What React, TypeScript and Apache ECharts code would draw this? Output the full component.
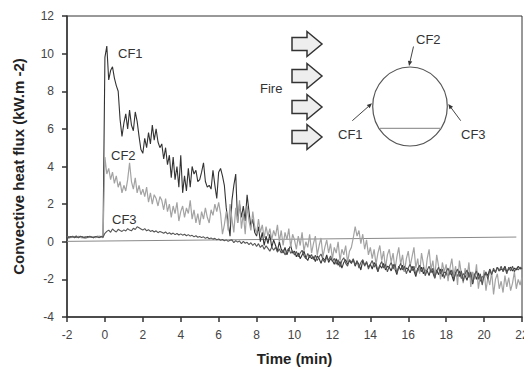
import React, { useEffect, useRef } from "react";
import * as echarts from "echarts";

// Sampling grid of the recorded data (minutes)
const timeStart = -2;
const timeStep = 0.1;

// Convective heat flux (kW.m-2), one value per sample, from t = -2.0 to 22.0 min
const cf1Flux = [
  0.25, 0.2, 0.28, 0.22, 0.26, 0.3, 0.21, 0.24, 0.27, 0.23,
  0.2, 0.28, 0.24, 0.26, 0.22, 0.25, 0.29, 0.23, 0.26, 0.25,
  9.8, 10.4, 8.6, 9.1, 9.3, 8.7, 8.3, 8.0, 6.5, 5.6,
  6.3, 6.8, 6.0, 7.0, 6.2, 5.9, 6.9, 6.4, 5.6, 4.9,
  4.7, 5.5, 5.0, 5.8, 5.2, 6.2, 5.4, 6.0, 5.3, 5.0,
  5.2, 4.4, 5.0, 4.1, 4.6, 3.4, 4.5, 3.3, 4.0, 2.9,
  4.6, 2.6, 3.5, 2.7, 3.9, 2.9, 4.0, 3.6, 3.8, 3.2,
  3.3, 3.7, 4.2, 3.2, 2.9, 3.0, 2.8, 3.8, 3.0, 2.3,
  3.7, 3.9, 3.5, 3.0, 1.8, 1.0, 0.3, 2.2, 3.0, 3.6,
  1.0, 2.0, 1.3, 1.9, 1.1, 2.5, 1.6, 0.8, 1.2, 0.5,
  0.3, 0.8, 0.0, 0.5, -0.2, 0.3, -0.1, 0.4, -0.3, 0.1,
  -0.2, -0.5, 0.0, -0.4, -0.6, -0.3, -0.7, -0.4, -0.2, -0.6,
  -0.5, -0.8, -0.6, -0.9, -0.7, -0.5, -0.85, -1.0, -0.7, -0.9,
  -0.8, -1.05, -0.75, -0.9, -1.15, -0.85, -1.0, -0.7, -1.1, -0.9,
  -1.0, -1.2, -0.9, -1.25, -1.05, -1.4, -1.1, -0.95, -1.2, -1.0,
  -1.15, -0.95, -1.3, -1.05, -1.2, -1.5, -1.0, -1.25, -1.1, -1.35,
  -1.2, -1.45, -1.1, -1.3, -1.6, -1.25, -1.4, -1.15, -1.5, -1.3,
  -1.35, -1.55, -1.2, -1.45, -1.75, -1.3, -1.5, -1.25, -1.6, -1.4,
  -1.45, -1.65, -1.3, -1.55, -1.85, -1.4, -1.6, -1.35, -1.7, -1.5,
  -1.55, -1.8, -1.4, -1.65, -1.95, -1.5, -1.75, -1.45, -1.85, -1.6,
  -1.65, -1.9, -1.5, -1.8, -2.1, -1.6, -1.85, -1.55, -1.95, -1.7,
  -1.8, -2.05, -1.6, -1.9, -2.25, -1.7, -2.0, -1.65, -2.1, -1.85,
  -1.9, -1.65, -1.8, -1.45, -1.7, -1.5, -1.6, -1.35, -1.55, -1.45,
  -1.5, -1.3, -1.6, -1.45, -1.35, -1.55, -1.4, -1.5, -1.3, -1.45,
  -1.4,
];

const cf2Flux = [
  0.24, 0.28, 0.21, 0.26, 0.25, 0.22, 0.29, 0.23, 0.2, 0.27,
  0.25, 0.21, 0.27, 0.23, 0.28, 0.22, 0.26, 0.3, 0.24, 0.22,
  4.5, 3.6, 3.9, 3.3, 3.7, 3.1, 3.5, 2.9, 3.2, 2.6,
  3.0, 2.7, 3.3, 4.2, 3.2, 2.8, 3.4, 2.6, 3.0, 2.5,
  2.8, 2.4, 2.9, 2.1, 2.6, 2.0, 2.5, 2.3, 1.9, 2.4,
  2.2, 1.7, 2.3, 1.6, 2.0, 1.3, 1.9, 1.5, 2.1, 1.1,
  1.6, 1.9, 1.3, 1.8, 1.5, 2.2, 1.2, 1.7, 1.0, 1.5,
  0.9, 1.6, 1.2, 1.8, 1.3, 1.0, 1.7, 1.4, 2.0, 1.6,
  2.1, 1.5, 0.4, 0.9, 1.6, 0.6, 2.0, 1.2, 0.5, 1.8,
  1.0, 2.2, 0.7, 1.5, 0.4, 1.9, 1.1, 0.6, 1.6, 0.8,
  0.4, 1.2, 0.5, 0.9, 0.2, 0.8, 0.3, 0.7, 0.1, 0.6,
  0.3, 0.9, 0.0, 0.6, -0.2, 0.5, 0.1, 0.7, -0.3, 0.4,
  0.1, -0.4, 0.3, -0.2, 0.5, -0.5, 0.0, -0.3, 0.4, -0.6,
  -0.1, 0.3, -0.7, -0.2, 0.2, -0.8, -0.3, 0.1, -0.6, -0.1,
  -0.9, -0.3, -0.6, 0.0, -1.0, -0.4, -0.7, -0.2, -1.1, -0.5,
  -0.3, 0.2, 0.8, 0.3, 0.6, -0.1, 0.4, -0.4, 0.1, -0.7,
  -0.3, -0.9, -0.4, -1.2, -0.6, -0.2, -1.0, -0.5, -1.4, -0.7,
  -0.4, -1.1, -0.6, -1.5, -0.8, -0.3, -1.2, -0.7, -1.6, -0.9,
  -0.5, -1.3, -0.8, -0.3, -1.4, -0.9, -1.7, -0.6, -1.2, -1.8,
  -0.9, -0.4, -1.5, -1.0, -1.9, -0.7, -1.3, -2.0, -1.1, -1.6,
  -1.2, -2.1, -1.4, -0.9, -1.8, -1.3, -2.3, -1.0, -1.7, -2.2,
  -1.4, -1.9, -1.1, -2.4, -1.6, -2.0, -1.2, -2.5, -1.8, -2.2,
  -1.5, -2.6, -1.9, -2.3, -1.6, -2.8, -2.0, -1.7, -2.5, -2.1,
  -2.7, -1.8, -2.4, -1.9, -2.6, -2.2, -1.6, -2.5, -2.0, -2.3,
  -1.9,
];

const cf3Flux = [
  0.22, 0.27, 0.24, 0.3, 0.21, 0.26, 0.23, 0.29, 0.25, 0.2,
  0.27, 0.23, 0.3, 0.24, 0.21, 0.28, 0.25, 0.22, 0.29, 0.24,
  0.45, 0.55, 0.62, 0.5, 0.68, 0.58, 0.52, 0.66, 0.6, 0.55,
  0.63, 0.57, 0.7, 0.62, 0.58, 0.72, 0.65, 0.8, 0.74, 0.68,
  0.62, 0.7, 0.58, 0.64, 0.55, 0.6, 0.52, 0.58, 0.48, 0.55,
  0.5, 0.45, 0.52, 0.42, 0.48, 0.4, 0.46, 0.38, 0.44, 0.36,
  0.42, 0.35, 0.4, 0.32, 0.38, 0.3, 0.34, 0.26, 0.32, 0.24,
  0.28, 0.22, 0.26, 0.18, 0.24, 0.16, 0.2, 0.14, 0.18, 0.1,
  0.15, 0.08, 0.12, 0.05, 0.1, 0.02, 0.08, 0.1, -0.05, 0.06,
  -0.02, 0.04, -0.1, 0.02, -0.08, -0.03, -0.15, -0.05, -0.2, -0.08,
  -0.25, -0.1, -0.3, -0.18, -0.4, -0.22, -0.35, -0.5, -0.28, -0.45,
  -0.3, -0.55, -0.38, -0.6, -0.42, -0.7, -0.5, -0.35, -0.62, -0.48,
  -0.7, -0.52, -0.8, -0.6, -0.45, -0.75, -0.9, -0.62, -0.85, -0.68,
  -0.95, -0.72, -1.0, -0.8, -0.65, -0.95, -1.1, -0.82, -0.98, -0.75,
  -1.05, -0.88, -1.2, -0.95, -1.35, -1.0, -0.85, -1.15, -1.3, -0.95,
  -1.1, -0.9, -1.25, -1.0, -1.4, -1.1, -0.95, -1.3, -1.05, -1.45,
  -1.2, -1.0, -1.35, -1.15, -1.55, -1.25, -1.05, -1.4, -1.2, -1.6,
  -1.3, -1.1, -1.45, -1.2, -1.65, -1.35, -1.15, -1.5, -1.3, -1.7,
  -1.4, -1.2, -1.55, -1.3, -1.75, -1.45, -1.25, -1.6, -1.35, -1.8,
  -1.5, -1.3, -1.65, -1.4, -1.9, -1.55, -1.35, -1.7, -1.45, -1.95,
  -1.6, -1.4, -1.75, -1.5, -2.0, -1.65, -1.45, -1.85, -1.55, -2.1,
  -1.7, -1.5, -1.9, -1.6, -2.2, -1.75, -1.55, -2.0, -1.7, -2.3,
  -1.8, -1.6, -2.0, -1.5, -1.75, -1.4, -1.65, -1.35, -1.55, -1.3,
  -1.6, -1.4, -1.7, -1.35, -1.55, -1.3, -1.6, -1.4, -1.5, -1.35,
  -1.45,
];

// Thin reference line (time, flux)
const referenceTimes = [-2, 21.7];
const referenceFlux = [0.02, 0.25];

const seriesNames = ["CF1", "CF2", "CF3"];

const FONT = "Liberation Sans, Arial, Helvetica, sans-serif";

function toPairs(values: number[]) {
  return values.map((v, i) => [Math.round((timeStart + i * timeStep) * 100) / 100, v]);
}

function blockArrow(cy: number) {
  return {
    type: "polygon",
    shape: {
      points: [
        [292, cy - 6.5],
        [307, cy - 6.5],
        [307, cy - 12.5],
        [322, cy],
        [307, cy + 12.5],
        [307, cy + 6.5],
        [292, cy + 6.5],
      ],
    },
    style: { fill: "#eeeeee", stroke: "#333333", lineWidth: 1.5 },
  };
}

function pointer(x1: number, y1: number, x2: number, y2: number) {
  const dx = x2 - x1;
  const dy = y2 - y1;
  const len = Math.sqrt(dx * dx + dy * dy);
  const ux = dx / len;
  const uy = dy / len;
  const hl = 5;
  const hw = 2.2;
  const bx = x2 - ux * hl;
  const by = y2 - uy * hl;
  return [
    {
      type: "line",
      shape: { x1, y1, x2: bx, y2: by },
      style: { stroke: "#444444", lineWidth: 1 },
    },
    {
      type: "polygon",
      shape: {
        points: [
          [x2, y2],
          [bx - uy * hw, by + ux * hw],
          [bx + uy * hw, by - ux * hw],
        ],
      },
      style: { fill: "#333333" },
    },
  ];
}

function label(text: string, x: number, y: number) {
  return {
    type: "text",
    style: {
      text,
      x,
      y,
      fill: "#333333",
      font: `13px ${FONT}`,
      textAlign: "left",
      textVerticalAlign: "middle",
    },
  };
}

export default function App() {
  const ref = useRef<HTMLDivElement>(null);

  useEffect(() => {
    if (!ref.current) return;
    const chart = echarts.init(ref.current, undefined, { renderer: "svg" });

    const option = {
      animation: false,
      backgroundColor: "#ffffff",
      grid: {
        left: 67,
        top: 16,
        right: 2,
        bottom: 50,
        show: true,
        borderColor: "#333333",
        borderWidth: 1,
        containLabel: false,
        outerBoundsMode: "none",
      },
      xAxis: {
        type: "value",
        min: -2,
        max: 22,
        interval: 2,
        name: "Time (min)",
        nameLocation: "middle",
        nameGap: 34,
        nameTextStyle: { fontFamily: FONT, fontSize: 15, fontWeight: "bold", color: "#222222" },
        axisLine: { show: true, onZero: false, lineStyle: { color: "#333333", width: 1.5 } },
        axisTick: { show: true, length: 5, lineStyle: { color: "#333333", width: 1.5 } },
        axisLabel: { fontFamily: FONT, fontSize: 12, color: "#444444", margin: 12 },
        splitLine: { show: false },
      },
      yAxis: {
        type: "value",
        min: -4,
        max: 12,
        interval: 2,
        name: "Convective heat flux (kW.m -2)",
        nameLocation: "middle",
        nameGap: 41,
        nameTextStyle: { fontFamily: FONT, fontSize: 15, fontWeight: "bold", color: "#222222" },
        axisLine: { show: true, onZero: false, lineStyle: { color: "#333333", width: 1.5 } },
        axisTick: { show: true, length: 5, lineStyle: { color: "#333333", width: 1.5 } },
        axisLabel: { fontFamily: FONT, fontSize: 12, color: "#444444", margin: 13 },
        splitLine: { show: false },
      },
      series: [
        {
          name: "reference",
          type: "line",
          data: referenceTimes.map((t, i) => [t, referenceFlux[i]]),
          showSymbol: false,
          lineStyle: { color: "#8a8a8a", width: 1 },
          z: 1,
        },
        {
          name: seriesNames[0],
          type: "line",
          data: toPairs(cf1Flux),
          showSymbol: false,
          lineStyle: { color: "#333333", width: 1.1 },
          z: 2,
        },
        {
          name: seriesNames[1],
          type: "line",
          data: toPairs(cf2Flux),
          showSymbol: false,
          lineStyle: { color: "#a3a3a3", width: 1.2 },
          z: 3,
        },
        {
          name: seriesNames[2],
          type: "line",
          data: toPairs(cf3Flux),
          showSymbol: false,
          lineStyle: { color: "#555555", width: 1.1 },
          z: 4,
        },
      ],
      graphic: [
        label("CF1", 118, 53),
        label("CF2", 111, 155),
        label("CF3", 112, 219),
        blockArrow(44),
        blockArrow(76),
        blockArrow(107),
        blockArrow(137),
        label("Fire", 260, 88),
        {
          type: "ellipse",
          shape: { cx: 410, cy: 106.5, rx: 37.3, ry: 39.5 },
          style: { fill: "none", stroke: "#555555", lineWidth: 1.2 },
        },
        {
          type: "line",
          shape: { x1: 380, y1: 128.3, x2: 441.5, y2: 128.3 },
          style: { stroke: "#999999", lineWidth: 1.2 },
        },
        ...pointer(413.5, 46.5, 409, 66),
        ...pointer(352.3, 120.7, 372, 103.3),
        ...pointer(460.7, 120.7, 448.3, 104),
        label("CF2", 416, 39),
        label("CF1", 338, 134),
        label("CF3", 461, 134),
      ],
    };

    chart.setOption(option as any);
    return () => {
      chart.dispose();
    };
  }, []);

  return (
    <div
      ref={ref}
      style={{ position: "absolute", left: 0, top: 0, width: 524, height: 367 }}
    />
  );
}
